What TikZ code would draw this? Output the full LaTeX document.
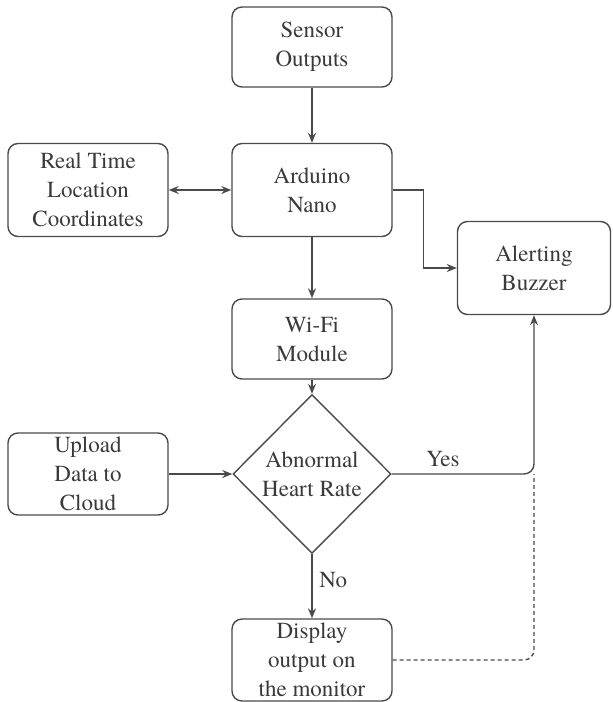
\documentclass[tikz,border=0pt]{standalone}
\usepackage{fontspec}
\setmainfont{texgyretermes}[Extension=.otf, UprightFont=*-regular, BoldFont=*-bold]
\usetikzlibrary{shapes.geometric}
\usetikzlibrary{arrows.meta}

\definecolor{linegray}{HTML}{4A4A4A}
\definecolor{textgray}{HTML}{3A3A3A}

\tikzset{
    block/.style={draw=linegray, line width=0.7pt, rounded corners=5pt, align=center,
        text=textgray, font=\fontsize{11.5}{14.5}\selectfont, minimum width=80pt, inner sep=2pt},
    decision/.style={draw=linegray, line width=0.7pt, diamond, align=center, inner sep=0pt,
        text=textgray, font=\fontsize{11.5}{14.5}\selectfont, minimum width=79pt, minimum height=79.5pt},
    flow/.style={draw=linegray, line width=0.7pt, -{Stealth[length=5pt, width=4pt]}},
    label/.style={text=textgray, font=\fontsize{11.5}{14.5}\selectfont}
}

\begin{document}
\begin{tikzpicture}[x=0.5pt, y=-0.5pt]
        \useasboundingbox (0, 0) rectangle (612, 702);

        \node[block, minimum height=40pt] (sensor) at (312, 47) {Sensor\\Outputs};
        \node[block, minimum height=46.5pt] (arduino) at (312, 190) {Arduino\\Nano};
        \node[block, minimum height=46.5pt] (location) at (88, 190) {Real Time\\Location\\Coordinates};
        \node[block, minimum height=46.5pt, minimum width=76.5pt] (buzzer) at (534, 268) {Alerting\\Buzzer};
        \node[block, minimum height=40pt] (wifi) at (312, 339) {Wi-Fi\\Module};
        \node[decision] (heart) at (312, 474) {Abnormal\\Heart Rate};
        \node[block, minimum height=41pt] (upload) at (88, 474) {Upload\\Data to\\Cloud};
        \node[block, minimum height=39.5pt] (display) at (312, 660) {Display\\output on\\the monitor};

        \coordinate (join) at (heart.east -| buzzer.south);

        \draw[flow] (sensor) -- (arduino);
        \draw[flow, {Stealth[length=5pt, width=4pt]}-{Stealth[length=5pt, width=4pt]}] (location) -- (arduino);
        \draw[flow] (arduino.east) -- ++(31, 0) |- (buzzer.west);
        \draw[flow] (arduino) -- (wifi);
        \draw[flow] (wifi) -- (heart);
        \draw[flow] (upload) -- (heart);
        \draw[flow, rounded corners=5pt] (heart.east) -| node[label, above, pos=0.18] {Yes} (buzzer.south);
        \draw[flow] (heart) -- node[label, right, pos=0.4] {No} (display);
        \draw[draw=linegray, line width=0.7pt, dash pattern=on 2pt off 1.5pt, rounded corners=5pt] (display.east) -| (join);
    \end{tikzpicture}
\end{document}
